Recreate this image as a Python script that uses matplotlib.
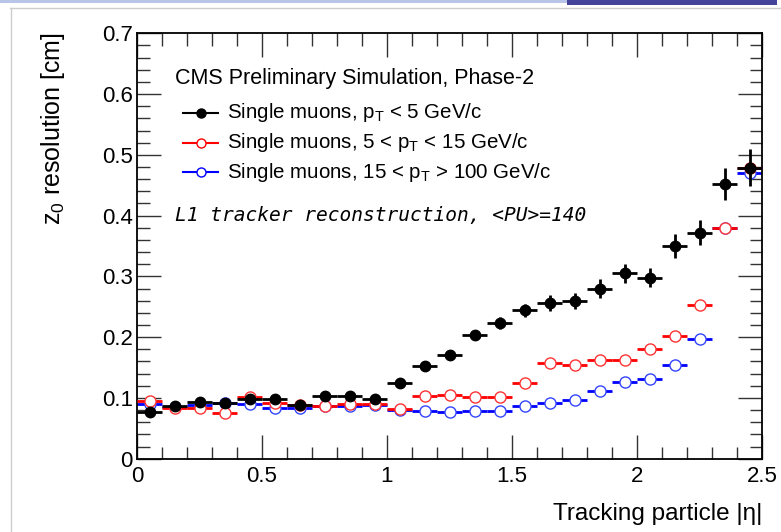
import matplotlib
matplotlib.use("Agg")
from matplotlib import pyplot as plt
from matplotlib.lines import Line2D
from matplotlib.patches import Rectangle
from matplotlib.ticker import MultipleLocator, FuncFormatter

plt.rcParams['font.family'] = ['Liberation Sans', 'DejaVu Sans']
plt.rcParams['mathtext.fontset'] = 'custom'
plt.rcParams['mathtext.rm'] = 'Liberation Sans'
plt.rcParams['mathtext.it'] = 'Liberation Sans:italic'

# |eta| bins of width 0.1, values at bin centres
eta = [0.05, 0.15, 0.25, 0.35, 0.45, 0.55, 0.65, 0.75, 0.85, 0.95,
       1.05, 1.15, 1.25, 1.35, 1.45, 1.55, 1.65, 1.75, 1.85, 1.95,
       2.05, 2.15, 2.25, 2.35, 2.45]
eta_err = [0.05] * 25

res_low = [0.077, 0.087, 0.093, 0.091, 0.098, 0.098, 0.088, 0.103, 0.103, 0.098,
           0.124, 0.152, 0.171, 0.203, 0.223, 0.244, 0.256, 0.260, 0.280, 0.305,
           0.298, 0.350, 0.372, 0.452, 0.479]
err_low = [0.004, 0.004, 0.004, 0.004, 0.005, 0.005, 0.005, 0.005, 0.005, 0.005,
           0.006, 0.006, 0.007, 0.008, 0.010, 0.011, 0.013, 0.013, 0.015, 0.016,
           0.016, 0.019, 0.020, 0.026, 0.031]

res_mid = [0.095, 0.084, 0.084, 0.076, 0.102, 0.092, 0.089, 0.086, 0.090, 0.090,
           0.081, 0.103, 0.104, 0.102, 0.102, 0.125, 0.158, 0.154, 0.163, 0.162,
           0.180, 0.202, 0.253, 0.380, 0.479]

res_high = [0.090, 0.085, 0.089, 0.091, 0.090, 0.084, 0.084, 0.086, 0.087, 0.088,
            0.080, 0.079, 0.077, 0.078, 0.078, 0.086, 0.091, 0.096, 0.111, 0.126,
            0.131, 0.154, 0.197, 0.380, 0.470]

labels = [r'Single muons, p$_{\rm T}$ < 5 GeV/c',
          r'Single muons, 5 < p$_{\rm T}$ < 15 GeV/c',
          r'Single muons, 15 < p$_{\rm T}$ > 100 GeV/c']
colors = ['black', '#ff0000', '#0000ff']

fig = plt.figure(figsize=(7.81, 5.32), dpi=100)

# slide frame around the figure
fig.add_artist(Rectangle((0, 1 - 2.5 / 532), 567 / 781, 2.5 / 532,
                         transform=fig.transFigure, color='#b8c4e8', lw=0))
fig.add_artist(Rectangle((567 / 781, 1 - 5 / 532), 210 / 781, 5 / 532,
                         transform=fig.transFigure, color='#44449a', lw=0))
fig.add_artist(Line2D([10 / 781, 1], [1 - 7.5 / 532] * 2,
                      transform=fig.transFigure, color='#cccccc', lw=1))
fig.add_artist(Line2D([10.5 / 781] * 2, [0, 1 - 7.5 / 532],
                      transform=fig.transFigure, color='#cccccc', lw=1))

ax = fig.add_axes([137 / 781, 1 - 458.7 / 532, 625 / 781, 425.4 / 532])

ax.errorbar(eta, res_high, xerr=eta_err, fmt='o', color='#0000ff', mfc='white',
            mec='#3344ff', ms=8, mew=1.0, elinewidth=2, capsize=0, zorder=2)
ax.errorbar(eta, res_mid, xerr=eta_err, fmt='o', color='#ff0000', mfc='white',
            mec='#ff3333', ms=8, mew=1.0, elinewidth=2, capsize=0, zorder=3)
ax.errorbar(eta, res_low, xerr=eta_err, yerr=err_low, fmt='o', color='black',
            ms=7.5, elinewidth=2, capsize=0, zorder=4)

ax.set_xlim(0, 2.5)
ax.set_ylim(0, 0.7)
ax.xaxis.set_major_locator(MultipleLocator(0.5))
ax.xaxis.set_minor_locator(MultipleLocator(0.1))
ax.yaxis.set_major_locator(MultipleLocator(0.1))
ax.yaxis.set_minor_locator(MultipleLocator(0.02))
ax.xaxis.set_major_formatter(FuncFormatter(lambda v, p: '%g' % v))
ax.yaxis.set_major_formatter(FuncFormatter(lambda v, p: '0' if v == 0 else '%.1f' % v))
ax.tick_params(which='both', direction='in', top=True, right=True,
               labelsize=16, color='#333333')
ax.tick_params(which='major', length=17, width=1)
ax.tick_params(which='minor', length=9, width=1)
ax.tick_params(axis='x', pad=5)
ax.tick_params(axis='y', pad=3)
for s in ax.spines.values():
    s.set_linewidth(1.3)

fig.text(53 / 781, 1 - 32 / 532, r'z$_0$ resolution [cm]', fontsize=18,
         rotation=90, ha='center', va='top')
fig.text(762 / 781, 1 - 520 / 532, 'Tracking particle |η|', fontsize=17.5,
         ha='right', va='baseline')

# legend block, positioned in data units
ax.text(0.152, 0.626, 'CMS Preliminary Simulation, Phase-2', fontsize=15.5,
        va='center')
for i, (lab, c) in enumerate(zip(labels, colors)):
    y = 0.569 - 0.049 * i
    ax.plot([0.184, 0.324], [y, y], color=c, lw=1.5)
    ax.plot([0.254], [y], 'o', ms=6.5, mew=1.0, mec=c,
            mfc=c if c == 'black' else 'white')
    ax.text(0.36, y, lab, fontsize=14.8, va='center')
ax.text(0.152, 0.401, 'L1 tracker reconstruction, <PU>=140', fontsize=14,
        family='DejaVu Sans Mono', style='oblique', va='center')

fig.savefig('out.png', dpi=100)
